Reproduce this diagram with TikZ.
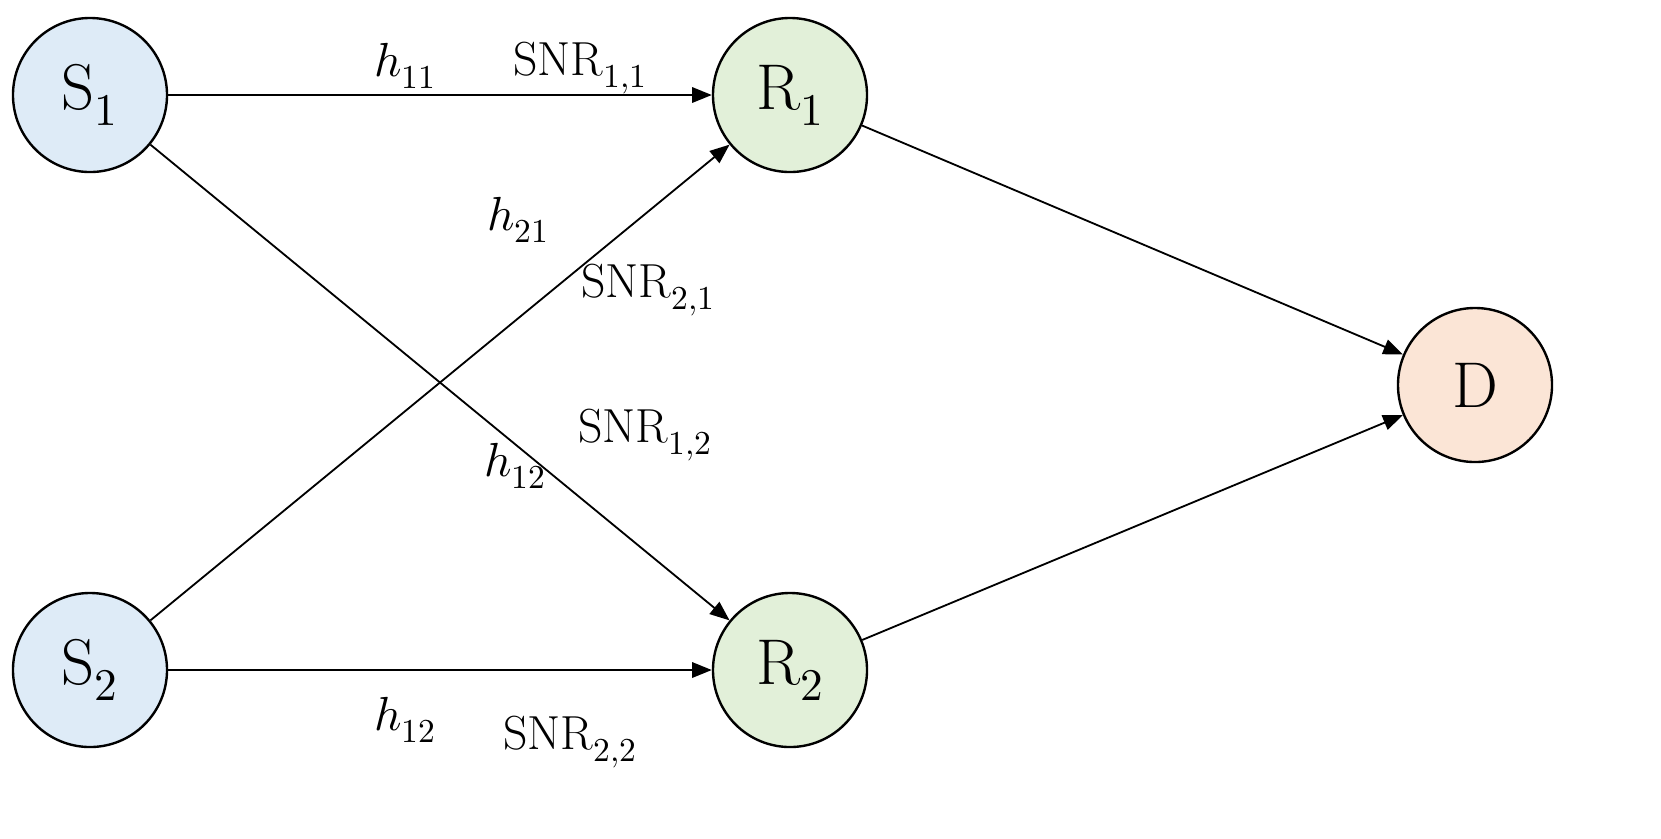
\documentclass[tikz,border=0pt]{standalone}
\usepackage{fontspec}
\usepackage{unicode-math}
\setmainfont{Latin Modern Roman}
\usetikzlibrary{arrows.meta}
\definecolor{sb}{HTML}{DEEBF7}
\definecolor{rg}{HTML}{E2F0D9}
\definecolor{do}{HTML}{FBE5D6}
\begin{document}
\begin{tikzpicture}[x=0.025cm,y=-0.025cm,
  nd/.style={circle,draw,line width=1.7pt,minimum size=3.85cm,inner sep=0pt,font=\fontsize{46}{50}\selectfont},
  ed/.style={line width=1.3pt,-{Triangle[length=14pt,width=11pt]}},
  lb/.style={font=\fontsize{34}{38}\selectfont,inner sep=0pt}]
\useasboundingbox (0,0) rectangle (1661,838);
\node[nd,fill=sb] (s1) at (90,95) {$\mathrm{S}_1$};
\node[nd,fill=sb] (s2) at (90,670) {$\mathrm{S}_2$};
\node[nd,fill=rg] (r1) at (790,95) {$\mathrm{R}_1$};
\node[nd,fill=rg] (r2) at (790,670) {$\mathrm{R}_2$};
\node[nd,fill=do] (d) at (1475,385) {$\mathrm{D}$};
\draw[ed] (s1) -- (r1);
\draw[ed] (s1) -- (r2);
\draw[ed] (s2) -- (r1);
\draw[ed] (s2) -- (r2);
\draw[ed] (r1) -- (d);
\draw[ed] (r2) -- (d);
\node[lb] (l1) at (405,66) {$h_{11}$};
\node[lb] (l2) at (580,68) {$\mathrm{SNR}_{1,1}$};
\node[lb] (l3) at (518,220) {$h_{21}$};
\node[lb] (l4) at (648,290) {$\mathrm{SNR}_{2,1}$};
\node[lb] (l5) at (645,435) {$\mathrm{SNR}_{1,2}$};
\node[lb] (l6) at (515,466) {$h_{12}$};
\node[lb] (l7) at (405,720) {$h_{12}$};
\node[lb] (l8) at (570,742) {$\mathrm{SNR}_{2,2}$};
\end{tikzpicture}
\end{document}
